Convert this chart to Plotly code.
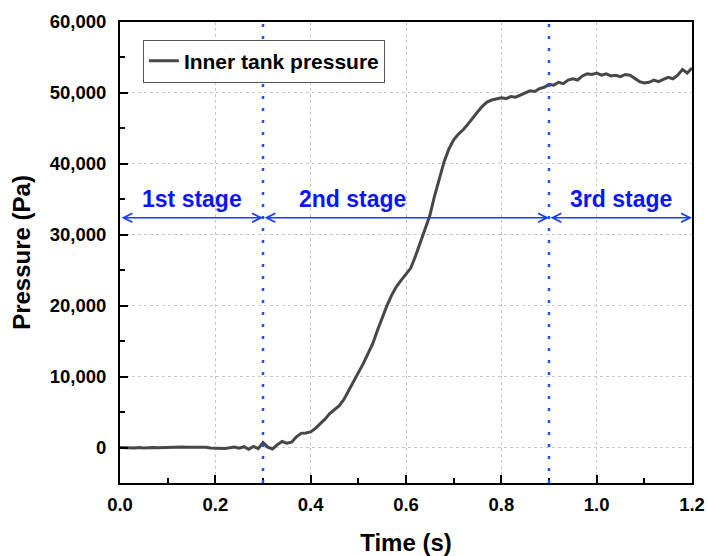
import plotly.graph_objects as go

# ---- data ----
time_s = [round(i * 0.01, 2) for i in range(121)]
pressure_pa = [
    0, -50, -100, -50, 0, -80, -30, 20, -40, 0,
    50, 20, 60, 80, 40, 60, 100, 80, 40, -60,
    -100, -60, -120, -40, 60, -80, 120, -250, 150, -150,
    700, 50, -200, 400, 850, 600, 750, 1500, 2000, 2050,
    2200, 2700, 3300, 4000, 4800, 5300, 5900, 6800, 8000, 9200,
    10500, 11800, 13200, 14600, 16500, 18300, 20000, 21500, 22700, 23600,
    24400, 25300, 27000, 28900, 30500, 32700, 35500, 38000, 40300, 42100,
    43400, 44200, 44800, 45600, 46500, 47300, 48100, 48700, 49000, 49100,
    49300, 49200, 49500, 49400, 49700, 50000, 50300, 50200, 50600, 50800,
    51200, 51100, 51500, 51300, 51800, 52000, 51800, 52400, 52700, 52600,
    52800, 52500, 52700, 52400, 52500, 52300, 52600, 52500, 52000, 51600,
    51400, 51500, 51800, 51600, 51900, 52200, 52000, 52500, 53300, 52800,
    53500,
]
series_name = "Inner tank pressure"
stage_bounds = [0.0, 0.3, 0.9, 1.2]
stage_labels = ["1st stage", "2nd stage", "3rd stage"]
stage_label_x = [0.15, 0.487, 1.05]
stage_label_y = [35000, 35000, 35000]
arrow_y = 32400
x_range = [0.0, 1.2]
y_range = [-5000, 60000]

FONT = "Arial, 'Liberation Sans', sans-serif"
BLUE = "#0a14ff"
ARROW_BLUE = "#1a3cff"

fig = go.Figure()
fig.add_trace(go.Scatter(
    x=time_s, y=pressure_pa, mode="lines", name=series_name,
    line=dict(color="#474747", width=3),
))

# vertical dotted stage separators
for xb in stage_bounds[1:-1]:
    fig.add_shape(type="line", x0=xb, x1=xb, y0=0, y1=1, xref="x", yref="paper",
                  line=dict(color="#1f4fff", width=2.5, dash="3px,9px"))

# double-headed arrows
for i in range(3):
    fig.add_annotation(
        x=stage_bounds[i + 1], y=arrow_y, ax=stage_bounds[i], ay=arrow_y,
        xref="x", yref="y", axref="x", ayref="y",
        text="", showarrow=True, arrowhead=5, startarrowhead=5,
        arrowside="end+start", arrowsize=1.1, startarrowsize=1.1,
        arrowwidth=1.6, arrowcolor=ARROW_BLUE,
    )
    fig.add_annotation(
        x=stage_label_x[i], y=stage_label_y[i], xref="x", yref="y",
        text=stage_labels[i], showarrow=False,
        font=dict(family=FONT, size=23, color=BLUE, weight="bold"),
    )

axis_common = dict(
    showline=True, linecolor="black", linewidth=2, mirror=True,
    ticks="inside", ticklen=8, tickwidth=2, tickcolor="black",
    showgrid=True, gridcolor="#c8c8c8", gridwidth=1, griddash="3px,3px",
    zeroline=False,
    tickfont=dict(family=FONT, size=18.5, color="black", weight="bold"),
    automargin=False,
)

fig.update_xaxes(
    range=x_range, dtick=0.2, tick0=0, tickformat=".1f",
    minor=dict(dtick=0.1, ticks="inside", ticklen=5, tickwidth=2, tickcolor="black", showgrid=False),
    title=dict(text="Time (s)", font=dict(family=FONT, size=24, color="black", weight="bold"), standoff=20),
    ticklabelstandoff=4,
    **axis_common,
)
fig.update_yaxes(
    range=y_range, dtick=10000, tick0=0, tickformat=",d",
    minor=dict(dtick=5000, ticks="inside", ticklen=5, tickwidth=2, tickcolor="black", showgrid=False),
    title=dict(text="Pressure (Pa)", font=dict(family=FONT, size=24, color="black", weight="bold"), standoff=12),
    ticklabelstandoff=8,
    **axis_common,
)

fig.update_layout(
    width=708, height=556,
    margin=dict(l=120, r=16, t=22, b=73),
    paper_bgcolor="white", plot_bgcolor="white",
    showlegend=True,
    legend=dict(
        x=0.04, y=0.962, xanchor="left", yanchor="top",
        bgcolor="white", bordercolor="#555555", borderwidth=1,
        font=dict(family=FONT, size=21, color="black", weight="bold"),
        itemwidth=30,
    ),
)

fig.write_html("out.html")
